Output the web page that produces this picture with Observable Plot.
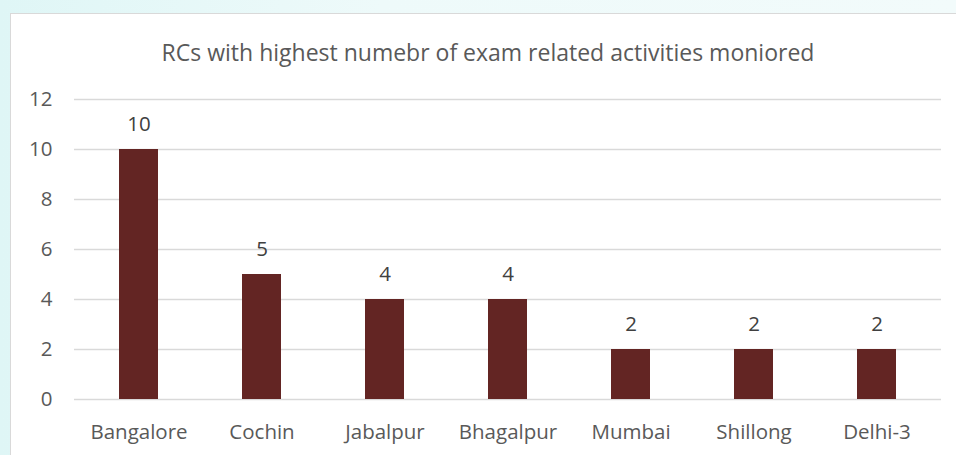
<!DOCTYPE html>
<html>
<head>
<meta charset="utf-8">
<script src="https://cdn.jsdelivr.net/npm/d3@7"></script>
<script src="https://cdn.jsdelivr.net/npm/@observablehq/plot@0.6"></script>
<style>
  html, body { margin: 0; padding: 0; width: 956px; height: 455px; overflow: hidden;
    background: linear-gradient(90deg, #dff6f6 0%, #eefafa 40%, #f2fbfb 100%); font-family: "Open Sans", sans-serif; }
  #box { position: absolute; left: 10px; top: 13px; width: 946px; height: 442px; background: #fff;
    border-left: 1px solid #d9d9d9; border-top: 1px solid #d9d9d9; }
  #title { position: absolute; left: 0; top: 37px; width: 976px; text-align: center; font-size: 23px; color: #595959; line-height: 30px; font-variant-ligatures: none; }
  #chart { position: absolute; left: 0; top: 80px; }
</style>
</head>
<body>
<div id="box"></div>
<div id="title">RCs with highest numebr of exam related activities moniored</div>
<div id="chart"></div>
<script>
const categories = ["Bangalore", "Cochin", "Jabalpur", "Bhagalpur", "Mumbai", "Shillong", "Delhi-3"];
const values = [10, 5, 4, 4, 2, 2, 2];
const yTicks = [0, 2, 4, 6, 8, 10, 12];

const data = categories.map((c, i) => ({category: c, value: values[i]}));

const chart = Plot.plot({
  width: 956,
  height: 375,
  marginLeft: 74,
  marginRight: 15,
  marginTop: 19,
  marginBottom: 56,
  style: {fontFamily: "'Open Sans', sans-serif", fontSize: "20.5px", color: "#595959", background: "transparent"},
  x: {domain: categories, paddingInner: 0.685, paddingOuter: 0.3425, label: null},
  y: {domain: [0, 12], label: null},
  marks: [
    Plot.gridY(yTicks, {stroke: "#d9d9d9", strokeOpacity: 1, strokeWidth: 1.5}),
    Plot.axisY(yTicks, {tickSize: 0, tickPadding: 22, fontSize: 20.5, fill: "#595959", label: null}),
    Plot.axisX({tickSize: 0, tickPadding: 25, fontSize: 20.5, fill: "#595959", label: null}),
    Plot.barY(data, {x: "category", y: "value", fill: "#632523"}),
    Plot.text(data, {x: "category", y: "value", text: d => String(d.value), dy: -25, fontSize: 20.5, fill: "#404040"})
  ]
});
document.getElementById("chart").appendChild(chart);
</script>
</body>
</html>
